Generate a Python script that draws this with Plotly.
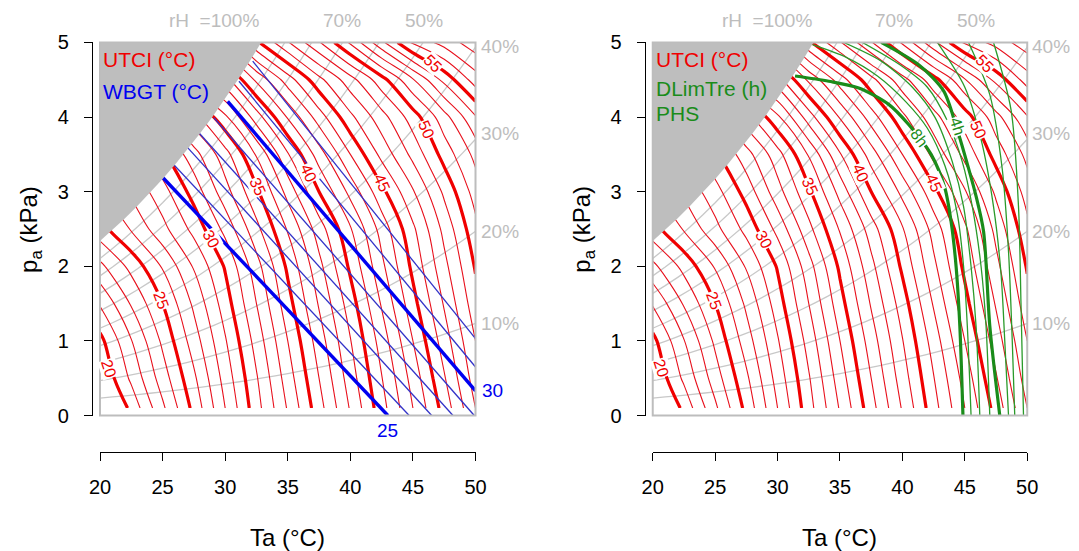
import plotly.graph_objects as go

# ---------------- data ----------------
# UTCI (°C) field on a coarse grid (air temperature Ta, vapour pressure pa)
ta_grid = [20, 22.5, 25, 27.5, 30, 32.5, 35, 37.5, 40, 42.5, 45, 47.5, 50]
pa_grid = [0.1, 0.5, 1.0, 1.5, 2.0, 2.5, 3.0, 3.5, 4.0, 4.5, 5.0]
utci_grid = [
    [17.8, 20.3, 22.8, 25.3, 28.0, 30.6, 33.1, 35.6, 38.1, 40.6, 43.0, 45.4, 48.0],
    [19.0, 21.2, 23.5, 25.8, 28.4, 30.9, 33.5, 36.0, 38.5, 40.95, 43.4, 45.9, 48.5],
    [19.7, 21.95, 24.2, 26.5, 28.9, 31.4, 34.0, 36.5, 38.95, 41.45, 44.0, 46.5, 49.0],
    [21.1, 23.1, 25.0, 27.2, 29.5, 32.0, 34.6, 37.1, 39.5, 42.1, 44.65, 47.1, 49.6],
    [22.75, 24.3, 26.1, 28.1, 30.1, 32.6, 35.2, 37.7, 40.2, 42.75, 45.25, 47.7, 50.1],
    [24.6, 26.1, 27.7, 29.3, 31.3, 33.7, 36.1, 38.5, 40.9, 43.4, 45.8, 48.3, 50.7],
    [25.8, 27.2, 28.6, 30.4, 32.6, 34.8, 37.35, 40.0, 42.3, 44.7, 46.9, 49.2, 51.45],
    [26.8, 28.3, 29.8, 31.6, 33.6, 36.1, 38.9, 41.5, 44.0, 46.3, 48.3, 50.4, 52.3],
    [28.0, 29.8, 31.6, 33.6, 35.8, 38.5, 41.1, 43.5, 45.75, 47.6, 49.5, 51.6, 53.9],
    [31.0, 33.0, 35.0, 37.0, 38.6, 41.2, 43.5, 45.7, 47.6, 49.6, 51.9, 54.3, 56.5],
    [33.0, 35.5, 38.0, 40.0, 42.0, 44.8, 46.9, 48.9, 51.15, 53.75, 56.2, 57.4, 58.6],
]

# UTCI isoline labels
utci_lab_val = [20, 25, 30, 35, 40, 45, 50, 55]
utci_lab_ta = [20.7, 24.9, 28.9, 32.6, 36.7, 42.5, 46.1, 46.6]
utci_lab_pa = [0.63, 1.54, 2.36, 3.07, 3.25, 3.12, 3.84, 4.72]
utci_lab_ang = [72, 70, 62, 66, 66, 66, 66, 45]

# saturation vapour pressure (kPa), 1 °C steps -> rH = 100 % boundary
es_ta = list(range(20, 51))
es_kpa = [2.339, 2.487, 2.645, 2.810, 2.985, 3.169, 3.363, 3.567, 3.782, 4.008,
          4.246, 4.495, 4.758, 5.034, 5.323, 5.628, 5.945, 6.280, 6.630, 6.997,
          7.381, 7.784, 8.205, 8.646, 9.108, 9.590, 10.094, 10.620, 11.171,
          11.745, 12.344]
rh_levels = [10, 20, 30, 40, 50, 60, 70, 80, 90]
rh_top_labels = ["rH\u00a0\u00a0=100%", "70%", "50%"]
rh_top_ta = [32.9, 39.3, 45.9]
rh_right_labels = ["40%", "30%", "20%", "10%"]
rh_right_pa = [4.94, 3.78, 2.47, 1.23]

# WBGT (°C) isolines: start on saturation curve, end at axis edge
wbgt_levels = [25, 26, 27, 28, 29, 30, 31, 32]
wbgt_ta0 = [24.9, 25.9, 27.0, 27.9, 29.1, 30.2, 31.1, 32.2]
wbgt_pa0 = [3.21, 3.36, 3.59, 3.79, 3.99, 4.21, 4.48, 4.75]
wbgt_ta1 = [43.0, 44.7, 46.5, 48.2, 49.9, 50.0, 50.0, 50.0]
wbgt_pa1 = [0.0, 0.0, 0.0, 0.0, 0.0, 0.33, 0.65, 1.03]

# PHS duration limit DLimTre (h)
dlim_hours = [8, 7, 6, 5, 4, 3, 2, 1]
dlim_ta = [
    [31.4, 34.1, 36.5, 38.9, 40.5, 42.3, 43.4, 43.9, 44.3, 44.6, 44.85],
    [32.8, 35.5, 38.0, 40.3, 42.0, 43.4, 44.4, 44.9, 45.2, 45.5],
    [35.3, 38.3, 40.8, 42.6, 44.0, 44.9, 45.5, 45.9, 46.2],
    [36.8, 39.8, 42.0, 43.6, 44.8, 45.6, 46.3, 46.7, 47.0],
    [38.3, 41.3, 43.3, 44.3, 45.1, 45.9, 46.5, 47.0, 47.8],
    [42.8, 45.0, 46.3, 47.3, 47.9, 48.2, 48.5],
    [45.3, 47.0, 48.0, 48.5, 48.8, 49.0],
    [47.3, 48.7, 49.3, 49.5, 49.7],
]
dlim_pa = [
    [4.55, 4.48, 4.39, 4.17, 3.90, 3.50, 3.05, 2.60, 2.00, 1.20, 0.0],
    [4.97, 4.80, 4.55, 4.20, 3.85, 3.35, 2.70, 2.00, 1.20, 0.0],
    [5.00, 4.75, 4.40, 4.00, 3.40, 2.80, 2.00, 1.20, 0.0],
    [5.00, 4.70, 4.40, 3.95, 3.40, 2.80, 2.00, 1.20, 0.0],
    [5.00, 4.70, 4.35, 3.88, 3.43, 2.94, 2.47, 1.20, 0.0],
    [5.00, 4.40, 3.70, 2.80, 1.90, 1.00, 0.0],
    [5.00, 4.30, 3.30, 2.20, 1.00, 0.0],
    [5.00, 4.10, 2.80, 1.50, 0.0],
]
dlim_lab = ["8h", "4h"]
dlim_lab_ta = [41.3, 44.4]
dlim_lab_pa = [3.72, 3.87]
dlim_lab_ang = [53, 72]

# ---------------- styling ----------------
FONT = "Liberation Sans, Arial, sans-serif"
RED = "#f00000"
RED_THIN = "#e8101c"
BLUE = "#0000f0"
BLUE_THIN = "#3232c8"
GREEN = "#1a8c1a"
GREEN_THIN = "#2a9a2a"
GREY_FILL = "#bebebe"
RH_GREY = "#c8c8c8"
LAB_GREY = "#bdbdbd"

W, H = 1079, 551
# page-pixel -> paper-fraction (calibrated on the rendered page)
OX, SX = 18.1, 1055.6
OY, SY = 17.5, 530.3
def px(v):
    return (v - OX) / SX
def py(v):
    return 1 - (v - OY) / SY

panels = [
    dict(xa="x", ya="y", xd=[px(99), px(474)], yax_pos=px(91)),
    dict(xa="x2", ya="y2", xd=[px(651), px(1025)], yax_pos=px(643)),
]
ydom = [py(415), py(41)]

fig = go.Figure()
shapes = []
annotations = []

for k, p in enumerate(panels):
    xa, ya = p["xa"], p["ya"]
    xref, yref = xa, ya
    # relative humidity lines (below traces)
    for rh in rh_levels:
        pts = [f"{t},{rh / 100 * e:.4f}" for t, e in zip(es_ta, es_kpa)]
        shapes.append(dict(type="path", xref=xref, yref=yref, layer="below",
                           path="M " + " L ".join(pts),
                           line=dict(color=RH_GREY, width=1.3)))
    # UTCI isolines
    fig.add_trace(go.Contour(
        x=ta_grid, y=pa_grid, z=utci_grid, xaxis=xa, yaxis=ya,
        contours=dict(start=20, end=60, size=1, coloring="lines", showlabels=False),
        line=dict(width=1.1, smoothing=1.0),
        colorscale=[[0, RED_THIN], [1, RED_THIN]], showscale=False,
        hoverinfo="skip"))
    fig.add_trace(go.Contour(
        x=ta_grid, y=pa_grid, z=utci_grid, xaxis=xa, yaxis=ya,
        contours=dict(start=20, end=55, size=5, coloring="lines", showlabels=False),
        line=dict(width=3.2, smoothing=1.0),
        colorscale=[[0, RED], [1, RED]], showscale=False,
        hoverinfo="skip"))

    if k == 0:
        for lev, t0, p0, t1, p1 in zip(wbgt_levels, wbgt_ta0, wbgt_pa0, wbgt_ta1, wbgt_pa1):
            thick = lev % 5 == 0
            fig.add_trace(go.Scatter(
                x=[t0, t1], y=[p0, p1], xaxis=xa, yaxis=ya, mode="lines",
                line=dict(color=BLUE if thick else BLUE_THIN, width=3.4 if thick else 1.3),
                hoverinfo="skip", showlegend=False))
    else:
        for h, tl, pl in zip(dlim_hours, dlim_ta, dlim_pa):
            thick = h in (4, 8)
            fig.add_trace(go.Scatter(
                x=tl, y=pl, xaxis=xa, yaxis=ya, mode="lines",
                line=dict(color=GREEN if thick else GREEN_THIN, width=3.2 if thick else 1.3,
                          shape="spline", smoothing=0.8),
                hoverinfo="skip", showlegend=False))

    # saturated region (rH > 100 %)
    sat_x = [t for t in es_ta if t <= 33] + [20]
    sat_y = [e for t, e in zip(es_ta, es_kpa) if t <= 33] + [es_kpa[13]]
    fig.add_trace(go.Scatter(
        x=sat_x, y=sat_y, xaxis=xa, yaxis=ya, mode="lines", fill="toself",
        fillcolor=GREY_FILL, line=dict(color=GREY_FILL, width=0),
        hoverinfo="skip", showlegend=False))

    # plot frame
    shapes.append(dict(type="rect", xref=f"{xa} domain", yref=f"{ya} domain",
                       x0=0, x1=1, y0=0, y1=1, layer="above",
                       line=dict(color="#bdbdbd", width=2)))

    # UTCI labels
    for v, t, pp, a in zip(utci_lab_val, utci_lab_ta, utci_lab_pa, utci_lab_ang):
        annotations.append(dict(x=t, y=pp, xref=xref, yref=yref, text=str(v),
                                showarrow=False, textangle=a, bgcolor="white",
                                borderpad=0, font=dict(family=FONT, size=16, color=RED)))
    # rH labels
    for lab, t in zip(rh_top_labels, rh_top_ta):
        annotations.append(dict(x=t, y=5, xref=xref, yref=yref, text=lab, showarrow=False,
                                xanchor="right" if lab.startswith("rH") else "center",
                                yanchor="bottom", yshift=9,
                                font=dict(family=FONT, size=19, color=LAB_GREY)))
    for lab, pp in zip(rh_right_labels, rh_right_pa):
        annotations.append(dict(x=50, y=pp, xref=xref, yref=yref, text=lab, showarrow=False,
                                xanchor="left", xshift=3,
                                font=dict(family=FONT, size=19, color=LAB_GREY)))
    # axis titles
    xc = (p["xd"][0] + p["xd"][1]) / 2
    annotations.append(dict(x=xc, y=py(537), xref="paper", yref="paper", text="Ta (°C)",
                            xanchor="center", yanchor="middle", showarrow=False,
                            font=dict(family=FONT, size=24, color="black")))
    annotations.append(dict(x=p["yax_pos"] - (px(91) - px(30)), y=py(228), xref="paper",
                            yref="paper", text="p<sub>a</sub> (kPa)", textangle=-90,
                            xanchor="center", yanchor="middle", showarrow=False,
                            font=dict(family=FONT, size=24, color="black")))
    # legend text
    annotations.append(dict(x=20.1, y=4.77, xref=xref, yref=yref, text="UTCI (°C)",
                            showarrow=False, xanchor="left",
                            font=dict(family=FONT, size=21, color=RED)))

annotations.append(dict(x=20.1, y=4.34, xref="x", yref="y", text="WBGT (°C)",
                        showarrow=False, xanchor="left",
                        font=dict(family=FONT, size=21, color=BLUE)))
annotations.append(dict(x=20.1, y=4.38, xref="x2", yref="y2", text="DLimTre (h)",
                        showarrow=False, xanchor="left",
                        font=dict(family=FONT, size=21, color=GREEN)))
annotations.append(dict(x=20.1, y=4.05, xref="x2", yref="y2", text="PHS",
                        showarrow=False, xanchor="left",
                        font=dict(family=FONT, size=21, color=GREEN)))
# WBGT level labels
annotations.append(dict(x=wbgt_ta1[0], y=0, xref="x", yref="y", text="25", showarrow=False,
                        yanchor="top", yshift=-2, font=dict(family=FONT, size=19, color=BLUE)))
annotations.append(dict(x=50, y=wbgt_pa1[5], xref="x", yref="y", text="30", showarrow=False,
                        xanchor="left", xshift=4, font=dict(family=FONT, size=19, color=BLUE)))
# DLimTre labels
for lab, t, pp, a in zip(dlim_lab, dlim_lab_ta, dlim_lab_pa, dlim_lab_ang):
    annotations.append(dict(x=t, y=pp, xref="x2", yref="y2", text=lab, showarrow=False,
                            textangle=a, bgcolor="white", borderpad=0,
                            font=dict(family=FONT, size=16, color=GREEN)))

axis_common = dict(showgrid=False, zeroline=False, showline=True, linecolor="black",
                   linewidth=1, ticks="outside", ticklen=8, tickcolor="black",
                   tickfont=dict(family=FONT, size=20, color="black"), anchor="free")

layout = dict(
    width=W, height=H, margin=dict(l=0, r=0, t=0, b=0),
    paper_bgcolor="white", plot_bgcolor="white", showlegend=False, hovermode=False,
    shapes=shapes, annotations=annotations,
)
for k, p in enumerate(panels):
    sfx = "" if k == 0 else "2"
    layout["xaxis" + sfx] = dict(axis_common, domain=p["xd"], range=[20, 50],
                                 tickvals=[20, 25, 30, 35, 40, 45, 50], position=py(452),
                                 ticklabelstandoff=9)
    layout["yaxis" + sfx] = dict(axis_common, domain=ydom, range=[0, 5],
                                 tickvals=[0, 1, 2, 3, 4, 5], position=p["yax_pos"],
                                 ticklabelstandoff=11)
fig.update_layout(**layout)
fig.write_html("out.html")
